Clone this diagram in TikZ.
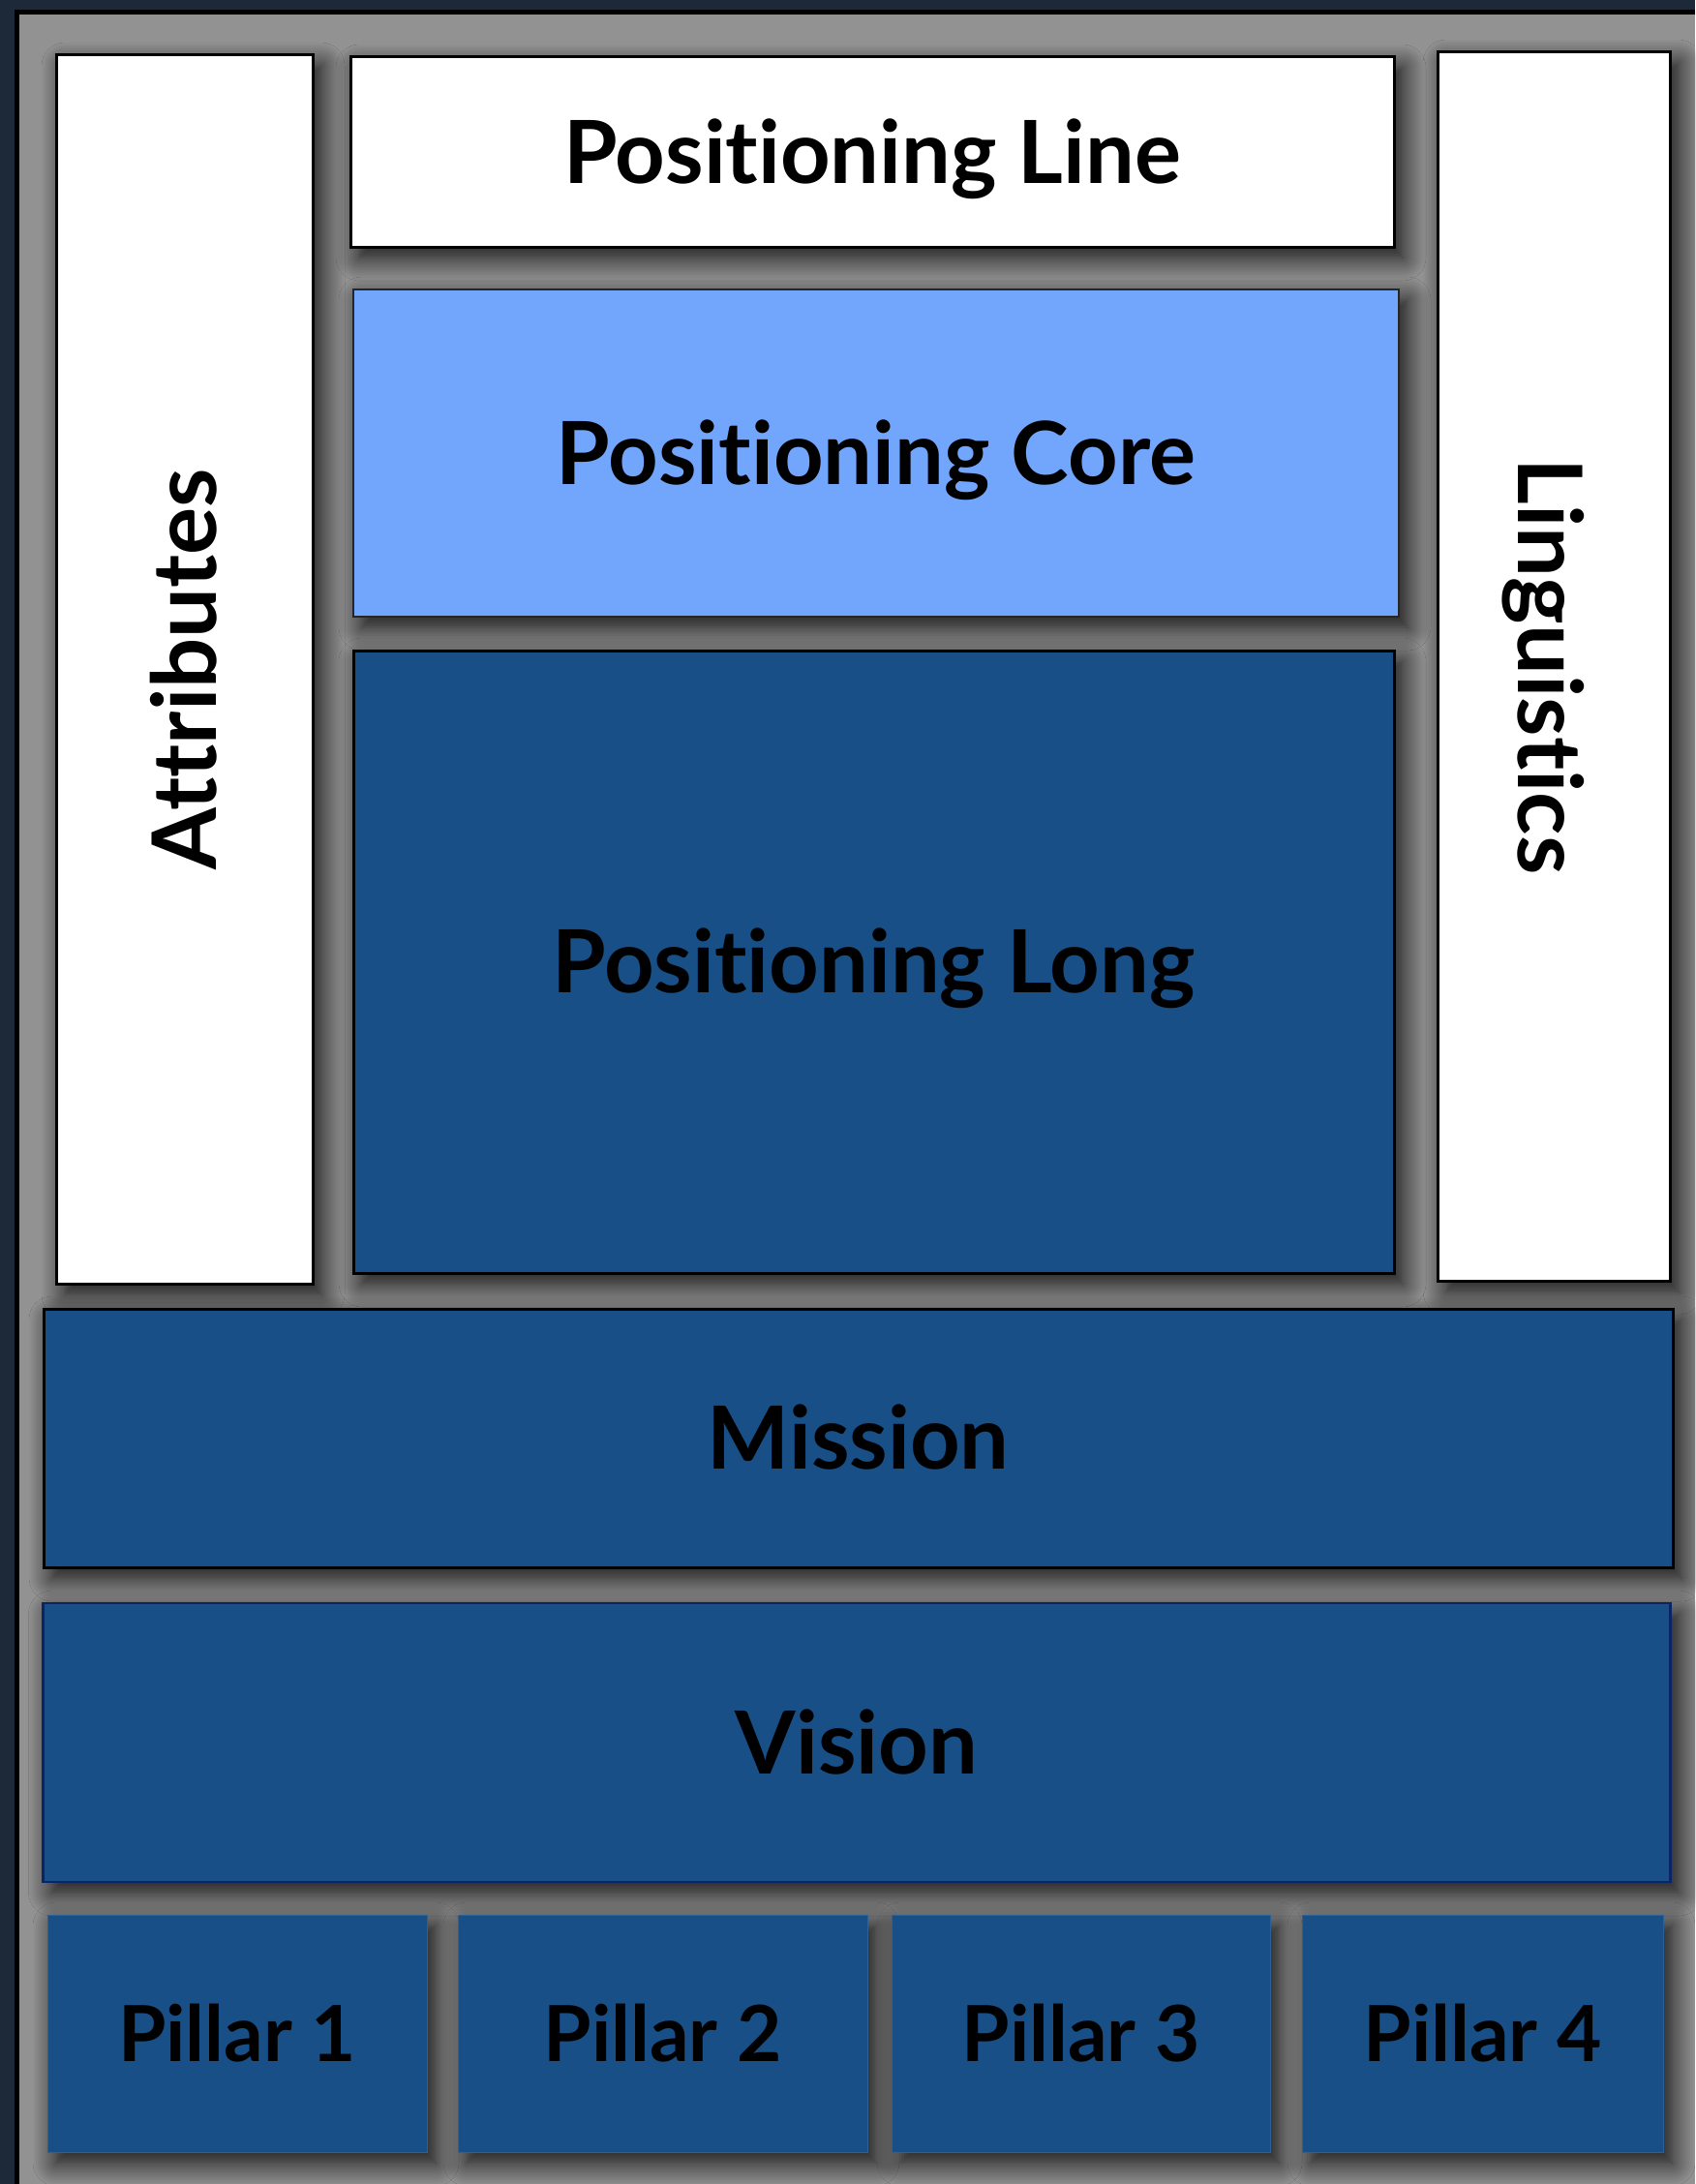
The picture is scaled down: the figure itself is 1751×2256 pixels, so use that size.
\documentclass[tikz,border=0pt]{standalone}
\usepackage{fontspec}
\setmainfont{Lato}[Ligatures={NoCommon}]
\usetikzlibrary{shadows.blur}

\definecolor{framenavy}{HTML}{1D2839}
\definecolor{panelgray}{HTML}{929292}
\definecolor{deepblue}{HTML}{174F86}
\definecolor{skyblue}{HTML}{72A6FD}
\definecolor{vislinecol}{HTML}{0B2463}
\definecolor{pillarline}{HTML}{2C6096}

\tikzset{
  softshadow/.style={blur shadow={shadow xshift=9pt, shadow yshift=-11pt,
      shadow blur radius=24pt, shadow blur steps=16, shadow opacity=90}},
  panel/.style={rectangle, inner sep=0pt, outer sep=0pt, softshadow},
  whitepanel/.style={panel, fill=white, draw=black, line width=3pt},
  corepanel/.style={panel, fill=skyblue, draw=black!85, line width=2.5pt},
  bluepanel/.style={panel, fill=deepblue, draw=black, line width=3pt},
  visionpanel/.style={panel, fill=deepblue, draw=vislinecol, line width=2.5pt},
  pillarpanel/.style={panel, fill=deepblue, draw=pillarline, line width=1pt},
  biglabel/.style={inner sep=0pt, font=\fontsize{90}{100}\selectfont\bfseries,
      text height=64.5pt, text depth=0pt},
  sidelabel/.style={inner sep=0pt, font=\fontsize{92}{100}\selectfont\bfseries,
      text height=66pt, text depth=0pt},
  pillarlabel/.style={inner sep=0pt, font=\fontsize{80}{90}\selectfont\bfseries,
      text height=57.3pt, text depth=0pt},
}

\begin{document}
\begin{tikzpicture}[x=1pt, y=-1pt]
  % window frame
  \useasboundingbox (0,0) rectangle (1751,2256);
  \fill[framenavy] (0,0) rectangle (1751,2256);
  \fill[black] (15,10) rectangle (1751,2256);
  \fill[panelgray] (20,15) rectangle (1751,2256);

  % side columns
  \node[whitepanel, minimum width=265, minimum height=1269] (attr) at (190.5,691.5) {};
  \node[whitepanel, minimum width=240, minimum height=1269] (ling) at (1605,688.5) {};
  \node[sidelabel, rotate=90] (attrtext) at (attr.center) {Attributes};
  \node[sidelabel, rotate=-90] (lingtext) at ([xshift=-4pt]ling.center) {Linguistics};

  % central stack
  \node[whitepanel, biglabel, minimum width=1078, minimum height=196] (line) at (901,157) {Positioning Line};
  \node[corepanel, biglabel, minimum width=1080, minimum height=338] (core) at (905,468) {Positioning Core};
  \node[bluepanel, biglabel, minimum width=1075, minimum height=643] (long) at (902.5,993.5) {Positioning Long};

  % full-width bands
  \node[bluepanel, biglabel, minimum width=1683, minimum height=267] (mission) at (886.5,1485.5) {Mission};
  \node[visionpanel, biglabel, minimum width=1681, minimum height=288] (vision) at (885,1800) {Vision};

  % pillars
  \node[pillarpanel, pillarlabel, minimum width=392, minimum height=245] (p1) at (245,2100.5) {Pillar 1};
  \node[pillarpanel, pillarlabel, minimum width=423, minimum height=245] (p2) at (684.5,2100.5) {Pillar 2};
  \node[pillarpanel, pillarlabel, minimum width=391, minimum height=245] (p3) at (1116.5,2100.5) {Pillar 3};
  \node[pillarpanel, pillarlabel, minimum width=373, minimum height=245] (p4) at (1531.5,2100.5) {Pillar 4};
\end{tikzpicture}
\end{document}
